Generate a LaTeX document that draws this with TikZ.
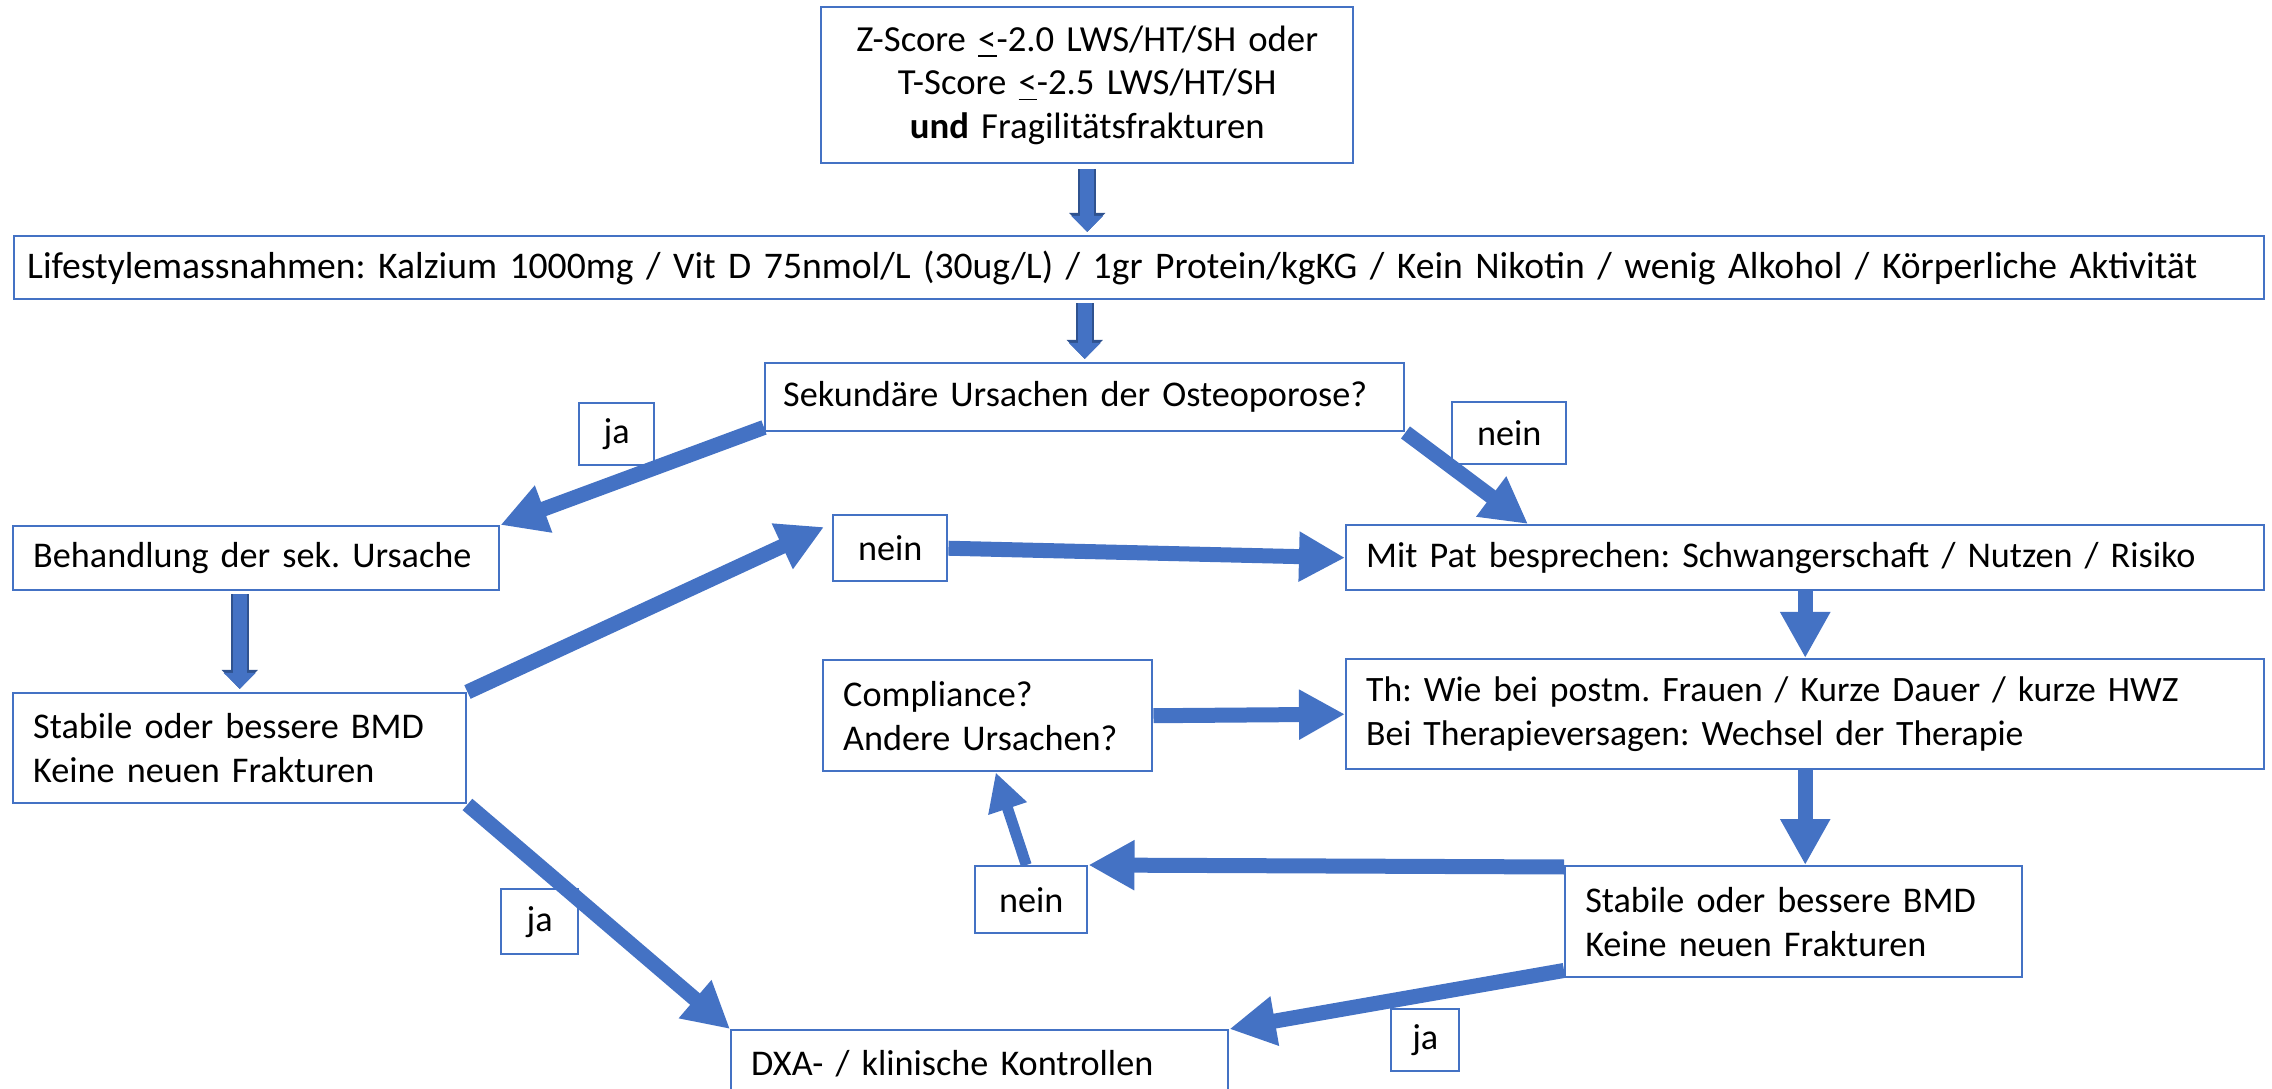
\documentclass[tikz,border=0pt]{standalone}
\usepackage{fontspec}
\setmainfont{Carlito}
\usepackage{xcolor}
\usetikzlibrary{arrows.meta}
\definecolor{accent}{HTML}{4472C4}
\definecolor{adark}{HTML}{2F528F}

\begin{document}
\frenchspacing
\begin{tikzpicture}[
  every node/.style={font=\fontsize{10.3}{12.5}\selectfont},
  box/.style={draw=accent, line width=0.7pt, fill=white, anchor=north west,
    inner xsep=0.2cm, inner ysep=0pt, align=left},
  tag/.style={draw=accent, line width=0.7pt, fill=white, anchor=north west, inner sep=0pt},
  flow/.style={draw=accent, line width=0.15cm, -{Triangle[length=0.46cm,width=0.47cm]}},
  thinflow/.style={draw=accent, line width=0.11cm, -{Triangle[length=0.38cm,width=0.38cm]}},
  blk/.style={draw=accent, line width=0.14cm, -{Triangle[length=0.16cm,width=0.31cm]},
    preaction={draw=adark, line width=0.18cm, -{Triangle[length=0.19cm,width=0.35cm]}}}
]
\useasboundingbox (0,0) rectangle (22.72,-10.89);

%========== boxes ==========
\node[box, font=\fontsize{10.45}{12.4}\selectfont, align=center, text width=4.92cm, minimum height=1.56cm] (crit) at (8.20,-0.06)
  {Z-Score \underline{<}-2.0 LWS/HT/SH oder\\T-Score \underline{<}-2.5 LWS/HT/SH\\\textbf{und} Fragilitätsfrakturen};
\node[box, font=\fontsize{10.7}{12.5}\selectfont, inner xsep=0.13cm, text width=22.24cm, minimum height=0.63cm] (life) at (0.13,-2.35)
  {\mbox{Lifestylemassnahmen: Kalzium 1000mg / Vit D 75nmol/L (30ug/L) / 1gr Protein/kgKG / Kein Nikotin / wenig Alkohol / Körperliche Aktivität}};
\node[box, inner xsep=0.18cm, text width=6.03cm, minimum height=0.68cm] (sek) at (7.64,-3.62) {\mbox{Sekundäre Ursachen der Osteoporose?}};
\node[box, text width=4.46cm, minimum height=0.64cm] (beh) at (0.12,-5.25) {\mbox{Behandlung der sek. Ursache}};
\node[box, text width=8.78cm, minimum height=0.65cm] (pat) at (13.45,-5.24) {Mit Pat besprechen: Schwangerschaft / Nutzen / Risiko};
\node[box, text width=2.89cm, minimum height=1.11cm] (comp) at (8.22,-6.59) {Compliance?\\Andere Ursachen?};
\node[box, font=\fontsize{10.15}{12.5}\selectfont, text width=8.78cm, minimum height=1.10cm] (th) at (13.45,-6.58)
  {Th: Wie bei postm. Frauen / Kurze Dauer / kurze HWZ\\Bei Therapieversagen: Wechsel der Therapie};
\node[box, text width=4.13cm, minimum height=1.10cm] (stabL) at (0.12,-6.92) {Stabile oder bessere BMD\\Keine neuen Frakturen};
\node[box, text width=4.17cm, minimum height=1.11cm] (stabR) at (15.64,-8.65) {Stabile oder bessere BMD\\Keine neuen Frakturen};
\node[box, text width=4.57cm, minimum height=0.66cm] (dxa) at (7.30,-10.29) {DXA- / klinische Kontrollen};

%========== ja / nein tags ==========
\node[tag, minimum width=0.75cm, minimum height=0.62cm] (jaA) at (5.78,-4.02) {ja};
\node[tag, minimum width=1.14cm, minimum height=0.62cm] (neinA) at (14.51,-4.01) {nein};
\node[tag, minimum width=1.14cm, minimum height=0.66cm] (neinB) at (8.32,-5.14) {nein};
\node[tag, minimum width=1.12cm, minimum height=0.67cm] (neinC) at (9.74,-8.65) {nein};
\node[tag, minimum width=0.77cm, minimum height=0.65cm] (jaB) at (5.00,-8.88) {ja};
\node[tag, minimum width=0.68cm, minimum height=0.62cm] (jaC) at (13.90,-10.08) {ja};

%========== arrows ==========
\draw[blk, shorten <=0.05cm, shorten >=0.03cm] (crit.south) -- (crit.south |- life.north);
\draw[blk, shorten <=0.03cm, shorten >=0.03cm] (sek.north |- life.south) -- (sek.north);
\draw[blk, shorten <=0.03cm, shorten >=0.03cm] (beh.south -| stabL.north) -- (stabL.north);

\draw[flow] ([yshift=0.05cm]sek.south west) -- (beh.north east);
\draw[flow] (sek.south east) -- ([xshift=1.83cm]pat.north west);
\draw[flow] (stabL.north east) -- ([xshift=-0.08cm,yshift=-0.13cm]neinB.north west);
\draw[flow] (neinB.east) -- (pat.west);
\draw[flow] (pat.south) -- (th.north);
\draw[flow] (comp.east) -- (th.west);
\draw[flow] (th.south) -- (th.south |- stabR.north);
\draw[flow] ([yshift=-0.02cm]stabR.north west) -- (neinC.north east);
\draw[thinflow] ([xshift=-0.05cm]neinC.north) -- ([xshift=0.08cm]comp.south);
\draw[flow] ([yshift=0.08cm]stabR.south west) -- (dxa.north east);
\draw[flow] (stabL.south east) -- (dxa.north west);
\end{tikzpicture}
\end{document}
